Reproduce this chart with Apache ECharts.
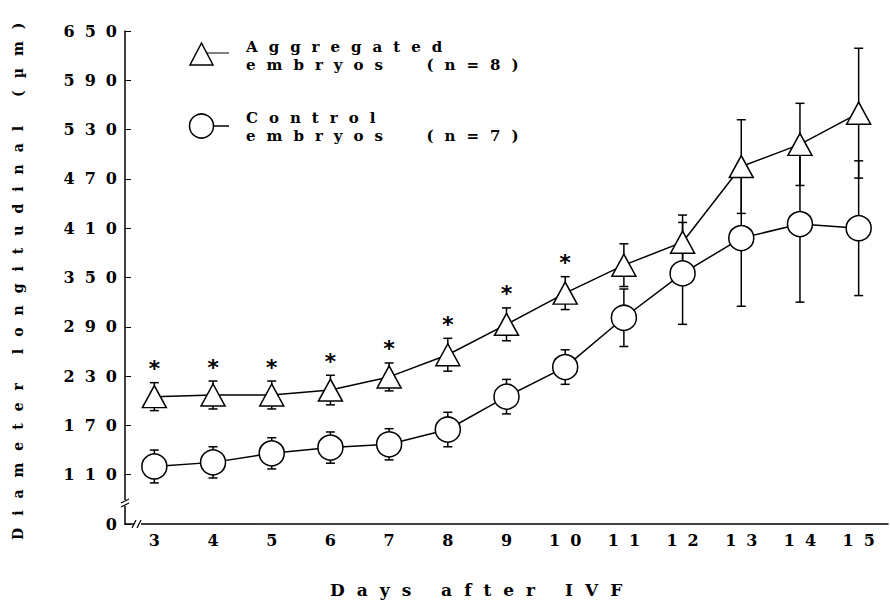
<!DOCTYPE html>
<html>
<head>
<meta charset="utf-8">
<script src="https://cdn.jsdelivr.net/npm/echarts@6/dist/echarts.min.js"></script>
<style>
    html, body { margin: 0; padding: 0; background: #fff; }
    #chart { width: 890px; height: 602px; }
    /* the scan uses a widely spaced typewriter face */
    #chart text { white-space: pre; }
    #chart text[style*="16px"] { letter-spacing: 10px; }
    #chart text[style*="15px"] { letter-spacing: 11px; }
    #chart text[style*="17px"] { letter-spacing: 12px; }
    #chart text[style*="14px"] { letter-spacing: 12px; }
    #chart text[style*="22px"] { letter-spacing: 0; }
</style>
</head>
<body>
<div id="chart"></div>
<script>
'use strict';
const days = ['3', '4', '5', '6', '7', '8', '9', '10', '11', '12', '13', '14', '15'];
// aggregated embryos (n=8): mean and error
const aggMean = [205, 207, 207, 213, 229, 256, 293, 331, 365, 393, 485, 512, 550];
const aggErr = [17, 17, 17, 18, 17, 20, 20, 20, 26, 33, 57, 50, 79];
// control embryos (n=7)
const ctrlMean = [120, 125, 136, 143, 147, 165, 205, 241, 301, 355, 398, 415, 410];
const ctrlErr = [20, 19, 19, 19, 19, 21, 21, 21, 35, 62, 83, 95, 82];
// * marks
const aggSig = [1, 1, 1, 1, 1, 1, 1, 1, 0, 0, 0, 0, 0];
// broken axis: bottom tick stands for 0
const yTickValues = [50, 110, 170, 230, 290, 350, 410, 470, 530, 590, 650];
const yTickLabels = ['0', '110', '170', '230', '290', '350', '410', '470', '530', '590', '650'];

const FONT = 'DejaVu Serif';
const black = '#000';

const errorBarItem = (params, api) => {
    const x = api.value(0), m = api.value(1), e = api.value(2);
    const hi = api.coord([x, m + e]);
    const lo = api.coord([x, m - e]);
    const w = 4.5;
    const style = { stroke: black, lineWidth: 1.5 };
    return {
        type: 'group',
        children: [
            { type: 'line', shape: { x1: hi[0], y1: hi[1], x2: lo[0], y2: lo[1] }, style },
            { type: 'line', shape: { x1: hi[0] - w, y1: hi[1], x2: hi[0] + w, y2: hi[1] }, style },
            { type: 'line', shape: { x1: lo[0] - w, y1: lo[1], x2: lo[0] + w, y2: lo[1] }, style }
        ]
    };
};

const starItem = (params, api) => {
    const p = api.coord([api.value(0), api.value(1)]);
    return {
        type: 'text',
        style: {
            text: '*', x: p[0], y: p[1] - 14,
            fontSize: 22, fontFamily: 'DejaVu Sans Mono', fontWeight: 'bold',
            fill: black, align: 'center', verticalAlign: 'middle'
        }
    };
};

const chart = echarts.init(document.getElementById('chart'), null, { renderer: 'svg' });
chart.setOption({
    animation: false,
    backgroundColor: '#fff',
    grid: { left: 125, right: 2, top: 31, bottom: 78 },
    xAxis: {
        type: 'category',
        data: days,
        boundaryGap: true,
        axisLine: { lineStyle: { color: black, width: 1.5 } },
        axisTick: { inside: true, alignWithLabel: true, length: 6, lineStyle: { color: black } },
        axisLabel: {
            color: black, fontSize: 16, fontWeight: 'bold', fontFamily: FONT, margin: 8,
            padding: [0, 0, 0, 10]
        },
        splitLine: { show: false }
    },
    yAxis: {
        type: 'value',
        min: 50,
        max: 650,
        axisLine: { show: true, lineStyle: { color: black, width: 1.5 } },
        axisTick: { show: true, inside: true, length: 6, customValues: yTickValues, lineStyle: { color: black } },
        axisLabel: {
            color: black, fontSize: 16, fontWeight: 'bold', fontFamily: FONT, margin: -2,
            customValues: yTickValues,
            formatter: (v) => yTickLabels[yTickValues.indexOf(v)]
        },
        splitLine: { show: false }
    },
    series: [{
        type: 'custom',
        name: 'aggErr',
        renderItem: errorBarItem,
        encode: { x: 0, y: 1 },
        data: days.map((d, i) => [i, aggMean[i], aggErr[i]]),
        z: 1,
        silent: true
    }, {
        type: 'custom',
        name: 'ctrlErr',
        renderItem: errorBarItem,
        encode: { x: 0, y: 1 },
        data: days.map((d, i) => [i, ctrlMean[i], ctrlErr[i]]),
        z: 1,
        silent: true
    }, {
        type: 'line',
        name: 'Control embryos (n=7)',
        data: ctrlMean,
        symbol: 'circle',
        symbolSize: 25,
        itemStyle: { color: '#fff', borderColor: black, borderWidth: 1.5 },
        lineStyle: { color: black, width: 1.5 },
        z: 2,
        silent: true
    }, {
        type: 'line',
        name: 'Aggregated embryos (n=8)',
        data: aggMean,
        symbol: 'triangle',
        symbolSize: [24, 22],
        itemStyle: { color: '#fff', borderColor: black, borderWidth: 1.5 },
        lineStyle: { color: black, width: 1.5 },
        z: 3,
        silent: true
    }, {
        type: 'custom',
        name: 'stars',
        renderItem: starItem,
        encode: { x: 0, y: 1 },
        data: days.map((d, i) => [i, aggMean[i] + aggErr[i]]).filter((_, i) => aggSig[i]),
        z: 4,
        silent: true
    }],
    graphic: [
        // legend
        { type: 'polygon', shape: { points: [[190, 65], [213, 65], [201.5, 43]] },
          style: { fill: '#fff', stroke: black, lineWidth: 1.5 } },
        { type: 'line', shape: { x1: 207, y1: 53, x2: 229, y2: 53 }, style: { stroke: black, lineWidth: 1 } },
        { type: 'text', style: { text: 'Aggregated\nembryos  (n=8)', x: 246, y: 38, fontSize: 15, fontWeight: 'bold',
          fontFamily: FONT, lineHeight: 18, fill: black, verticalAlign: 'top' } },
        { type: 'circle', shape: { cx: 201.5, cy: 126, r: 12 }, style: { fill: '#fff', stroke: black, lineWidth: 1.5 } },
        { type: 'line', shape: { x1: 213.5, y1: 126, x2: 229, y2: 126 }, style: { stroke: black, lineWidth: 1.5 } },
        { type: 'text', style: { text: 'Control\nembryos  (n=7)', x: 246, y: 109, fontSize: 15, fontWeight: 'bold',
          fontFamily: FONT, lineHeight: 18, fill: black, verticalAlign: 'top' } },
        // axis titles
        { type: 'text', style: { text: 'Days after IVF', x: 330, y: 590, fontSize: 17, fontWeight: 'bold',
          fontFamily: FONT, fill: black, verticalAlign: 'middle' } },
        { type: 'text', x: 18, y: 540, rotation: Math.PI / 2,
          style: { text: 'Diameter longitudinal (µm)', x: 0, y: 0, fontSize: 14, fontWeight: 'bold',
          fontFamily: FONT, fill: black, verticalAlign: 'middle' } },
        // axis break marks
        { type: 'rect', shape: { x: 121, y: 500, width: 9, height: 6 }, style: { fill: '#fff' }, z: 10 },
        { type: 'line', shape: { x1: 121, y1: 503, x2: 129, y2: 499 }, style: { stroke: black, lineWidth: 1.2 }, z: 11 },
        { type: 'line', shape: { x1: 121, y1: 507, x2: 129, y2: 503 }, style: { stroke: black, lineWidth: 1.2 }, z: 11 },
        { type: 'rect', shape: { x: 134, y: 520, width: 7, height: 8 }, style: { fill: '#fff' }, z: 10 },
        { type: 'line', shape: { x1: 132, y1: 528, x2: 136, y2: 520 }, style: { stroke: black, lineWidth: 1.2 }, z: 11 },
        { type: 'line', shape: { x1: 137, y1: 528, x2: 141, y2: 520 }, style: { stroke: black, lineWidth: 1.2 }, z: 11 }
    ]
});
</script>
</body>
</html>
